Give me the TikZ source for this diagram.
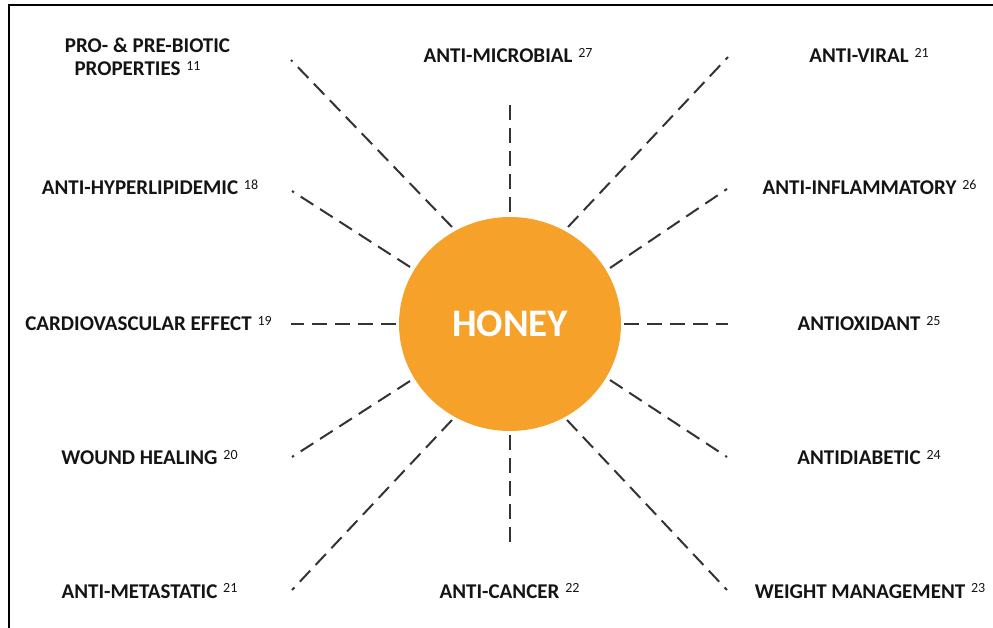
\documentclass[tikz,border=0pt]{standalone}
\usepackage{fontspec}
\setmainfont{Carlito}
\usetikzlibrary{shapes.geometric}
\definecolor{honeyorange}{HTML}{F6A22A}
\definecolor{spokegray}{HTML}{333333}
\definecolor{labelblack}{HTML}{141414}
\newcommand\refnum[1]{\rlap{\hspace{0.28em}\raisebox{5.5pt}{\fontsize{14}{14}\selectfont\mdseries #1}}}
\begin{document}
\begin{tikzpicture}[x=1pt,y=-1pt,
  lbl/.style={anchor=base,inner sep=0pt,font=\fontsize{21}{24}\selectfont\bfseries,text=labelblack},
  spoke/.style={draw=spokegray,line width=2pt,dash pattern=on 15pt off 8pt},
  frameline/.style={draw=black,line width=2.5pt}]
\useasboundingbox (0,0) rectangle (993,628);
% frame
\coordinate (fbl) at (9,628);
\coordinate (ftl) at (9,5);
\coordinate (ftr) at (993,5);
\draw[frameline] (fbl) -- (ftl) -- (ftr);
% centre
\node[ellipse,fill=honeyorange,minimum width=222pt,minimum height=214pt,inner sep=0pt,
  text=white,font=\fontsize{39}{39}\selectfont\bfseries] (honey) at (510,324) {HONEY};
% spoke end points
\coordinate (i1) at (452,227);  \coordinate (o1) at (291,60);
\coordinate (i2) at (510,212);  \coordinate (o2) at (510,103);
\coordinate (i3) at (568,227);  \coordinate (o3) at (728,57);
\coordinate (i4) at (410,267);  \coordinate (o4) at (292,191);
\coordinate (i5) at (610,268);  \coordinate (o5) at (727,189);
\coordinate (i6) at (396,324);  \coordinate (o6) at (291,324);
\coordinate (i7) at (624,324);  \coordinate (o7) at (728,324);
\coordinate (i8) at (410,381);  \coordinate (o8) at (292,457);
\coordinate (i9) at (610,380);  \coordinate (o9) at (727,457);
\coordinate (i10) at (452,420); \coordinate (o10) at (292,590);
\coordinate (i11) at (510,435); \coordinate (o11) at (510,545);
\coordinate (i12) at (567,420); \coordinate (o12) at (727,590);
\foreach \k in {1,...,12}{\draw[spoke] (i\k) -- (o\k);}
% labels
\node[lbl] (pro1) at (147.5,53) {PRO- \& PRE-BIOTIC};
\node[lbl] (pro2) at (127.5,76) {PROPERTIES\refnum{11}};
\node[lbl] (micro) at (498,63) {ANTI-MICROBIAL\refnum{27}};
\node[lbl] (viral) at (859,63) {ANTI-VIRAL\refnum{21}};
\node[lbl] (hyper) at (140,195) {ANTI-HYPERLIPIDEMIC\refnum{18}};
\node[lbl] (inflam) at (859.5,195) {ANTI-INFLAMMATORY\refnum{26}};
\node[lbl] (cardio) at (138.5,330.5) {CARDIOVASCULAR EFFECT\refnum{19}};
\node[lbl] (antiox) at (859,330.5) {ANTIOXIDANT\refnum{25}};
\node[lbl] (wound) at (139.5,464.5) {WOUND HEALING\refnum{20}};
\node[lbl] (diab) at (859,464.5) {ANTIDIABETIC\refnum{24}};
\node[lbl] (meta) at (139.5,598) {ANTI-METASTATIC\refnum{21}};
\node[lbl] (cancer) at (499.5,598) {ANTI-CANCER\refnum{22}};
\node[lbl] (weight) at (860,598) {WEIGHT MANAGEMENT\refnum{23}};
\end{tikzpicture}
\end{document}
